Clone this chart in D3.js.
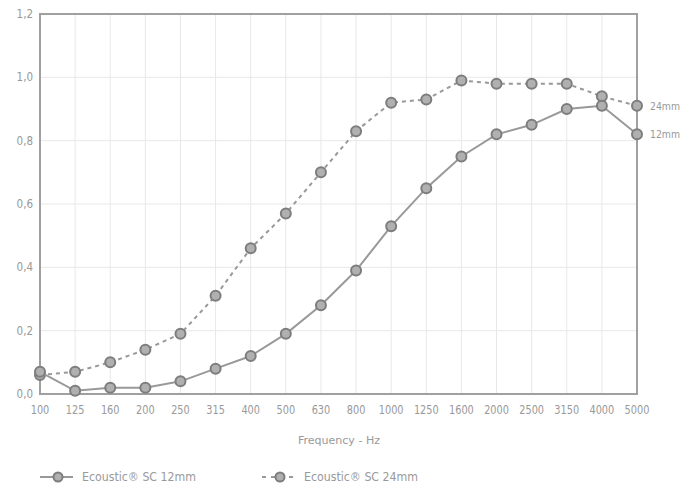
<!DOCTYPE html>
<html><head><meta charset="utf-8">
<script src="https://cdn.jsdelivr.net/npm/d3@7"></script>
<style>body{margin:0;background:#fff;} text{font-family:"Liberation Sans Narrow","DejaVu Sans Condensed","DejaVu Sans",sans-serif;font-stretch:condensed;fill:#999;}</style>
</head><body><svg id="c" width="689" height="491"></svg>
<script>
const categories = ["100","125","160","200","250","315","400","500","630","800","1000","1250","1600","2000","2500","3150","4000","5000"];
const s12 = [0.07,0.01,0.02,0.02,0.04,0.08,0.12,0.19,0.28,0.39,0.53,0.65,0.75,0.82,0.85,0.90,0.91,0.82];
const s24 = [0.06,0.07,0.10,0.14,0.19,0.31,0.46,0.57,0.70,0.83,0.92,0.93,0.99,0.98,0.98,0.98,0.94,0.91];
const yTicks = [0,0.2,0.4,0.6,0.8,1.0,1.2];
const seriesNames = ["Ecoustic® SC 12mm","Ecoustic® SC 24mm"];
const endLabels = ["12mm","24mm"];

const svg = d3.select("#c");
const L=40,R=637,T=14,B=394;
const x = d3.scalePoint().domain(categories).range([L,R]);
const y = d3.scaleLinear().domain([0,1.2]).range([B,T]);
const lineC="#999";

svg.append("g").selectAll("line").data(categories).join("line")
 .attr("x1",d=>x(d)).attr("x2",d=>x(d)).attr("y1",T).attr("y2",B)
 .attr("stroke","#e8e8e8").attr("stroke-width",1);
svg.append("g").selectAll("line").data(yTicks).join("line")
 .attr("x1",L).attr("x2",R).attr("y1",d=>y(d)).attr("y2",d=>y(d))
 .attr("stroke","#e8e8e8").attr("stroke-width",1);
svg.append("rect").attr("x",L).attr("y",T).attr("width",R-L).attr("height",B-T)
 .attr("fill","none").attr("stroke","#a0a0a0").attr("stroke-width",2);

svg.append("g").selectAll("text").data(yTicks).join("text")
 .attr("x",33).attr("y",d=>y(d)+4).attr("text-anchor","end").attr("font-size",11.5)
 .text(d=>d.toFixed(1).replace(".",","));
svg.append("g").selectAll("text").data(categories).join("text")
 .attr("x",d=>x(d)).attr("y",414).attr("text-anchor","middle").attr("font-size",11.5)
 .attr("textLength",d=>d.length*6.2).attr("lengthAdjust","spacingAndGlyphs")
 .text(d=>d);
svg.append("text").attr("x",339).attr("y",444).attr("text-anchor","middle").attr("font-size",11)
 .attr("textLength",82).attr("lengthAdjust","spacingAndGlyphs").text("Frequency - Hz");

const line = d3.line().x((d,i)=>x(categories[i])).y(d=>y(d));
function drawSeries(data,dash){
  svg.append("path").attr("d",line(data)).attr("fill","none").attr("stroke",lineC)
   .attr("stroke-width",2).attr("stroke-dasharray",dash);
  svg.append("g").selectAll("circle").data(data).join("circle")
   .attr("cx",(d,i)=>x(categories[i])).attr("cy",d=>y(d)).attr("r",5)
   .attr("fill","#b0b0b0").attr("stroke","#7d7d7d").attr("stroke-width",2);
}
drawSeries(s24,"4,4");
drawSeries(s12,null);

[s12,s24].forEach((s,k)=>{
  svg.append("text").attr("x",R+13).attr("y",y(s[s.length-1])+4).attr("font-size",10.5)
   .attr("textLength",30).attr("lengthAdjust","spacingAndGlyphs").text(endLabels[k]);
});

function legendItem(x0,x1,cx,tx,dash,name){
  svg.append("line").attr("x1",x0).attr("x2",x1).attr("y1",477).attr("y2",477)
   .attr("stroke",lineC).attr("stroke-width",2).attr("stroke-dasharray",dash);
  svg.append("circle").attr("cx",cx).attr("cy",477).attr("r",4.5).attr("fill","#b0b0b0").attr("stroke","#7d7d7d").attr("stroke-width",2);
  svg.append("text").attr("x",tx).attr("y",481).attr("font-size",11.5)
   .attr("textLength",114).attr("lengthAdjust","spacingAndGlyphs").text(name);
}
legendItem(40,73,58,82,null,seriesNames[0]);
legendItem(262,298,280,304,"4,5",seriesNames[1]);
</script></body></html>
